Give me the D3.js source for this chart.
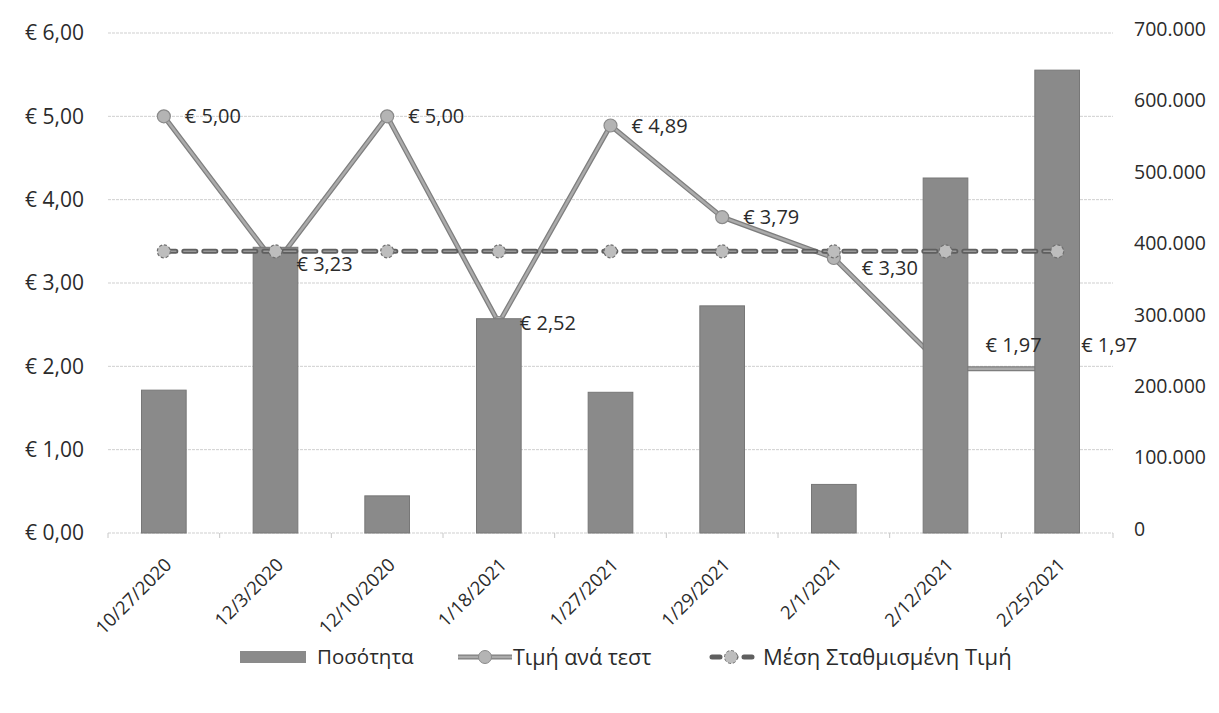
<!DOCTYPE html>
<html><head><meta charset="utf-8">
<script src="https://cdn.jsdelivr.net/npm/d3@7"></script>
<style>
body{margin:0;background:#fff}
svg{display:block}
text{font-family:"Open Sans",sans-serif;fill:#2b2b2b}
</style>
</head><body>
<svg id="c" width="1219" height="713"></svg>
<script>
const categories=["10/27/2020","12/3/2020","12/10/2020","1/18/2021","1/27/2021","1/29/2021","2/1/2021","2/12/2021","2/25/2021"];
const quantity=[200000,400000,52000,300000,197000,318000,68000,497000,648000];
const pricePerTest=[5.00,3.23,5.00,2.52,4.89,3.79,3.30,1.97,1.97];
const weightedAvg=[3.38,3.38,3.38,3.38,3.38,3.38,3.38,3.38,3.38];
const leftTicks=[0,1,2,3,4,5,6];
const rightTicks=[0,100000,200000,300000,400000,500000,600000,700000];
const seriesNames=["Ποσότητα","Τιμή ανά τεστ","Μέση Σταθμισμένη Τιμή"];

// label nudges (styling only)
const labelNudge={6:{dx:28,dy:10},7:{dx:40,dy:-24},8:{dx:24,dy:-24}};

const loc=d3.formatLocale({decimal:",",thousands:".",grouping:[3],currency:["€",""]});
const fmtEur=v=>"€ "+loc.format(",.2f")(v);
const fmtQty=loc.format(",.0f");

const svg=d3.select("#c");
const L=108,R=1113,T=33,B=533;
const x=d3.scaleBand().domain(categories).range([L,R]).paddingInner(0.6).paddingOuter(0.3);
const yL=d3.scaleLinear().domain([0,6]).range([B,T]);
const yR=d3.scaleLinear().domain([0,700000]).range([B,T]);
const cx=d=>x(d)+x.bandwidth()/2;
const step=x.step();

// gridlines
svg.append("g").selectAll("line").data(leftTicks).join("line")
  .attr("x1",L).attr("x2",R).attr("y1",d=>yL(d)).attr("y2",d=>yL(d))
  .attr("stroke","#cfcfcf").attr("stroke-width",1).attr("stroke-dasharray","3,1");

// x-axis tick marks at category boundaries
svg.append("g").selectAll("line").data(d3.range(categories.length+1)).join("line")
  .attr("x1",i=>L+i*step).attr("x2",i=>L+i*step).attr("y1",B).attr("y2",B+5)
  .attr("stroke","#c8c8c8");

// left axis labels
svg.append("g").selectAll("text").data(leftTicks).join("text")
  .attr("x",84).attr("y",d=>yL(d)).attr("dy","0.35em").attr("text-anchor","end")
  .attr("font-size",21).text(fmtEur);

// right axis labels
svg.append("g").selectAll("text").data(rightTicks).join("text")
  .attr("x",1134).attr("y",d=>yR(d)-4).attr("dy","0.35em").attr("text-anchor","start")
  .attr("font-size",19.5).text(fmtQty);

// x labels
svg.append("g").selectAll("text").data(categories).join("text")
  .attr("transform",d=>`translate(${cx(d)+9},${B+33}) rotate(-45)`)
  .attr("text-anchor","end").attr("font-size",18.5).text(d=>d);

// price per test line (under bars)
const priceData=categories.map((c,i)=>({c,v:pricePerTest[i],i}));
const line=d3.line().x(d=>cx(d.c)).y(d=>yL(d.v));
svg.append("path").datum(priceData).attr("d",line).attr("fill","none")
  .attr("stroke","#7e7e7e").attr("stroke-width",5).attr("stroke-linejoin","round");
svg.append("path").datum(priceData).attr("d",line).attr("fill","none")
  .attr("stroke","#ababab").attr("stroke-width",2.5).attr("stroke-linejoin","round");
svg.append("g").selectAll("circle").data(priceData).join("circle")
  .attr("cx",d=>cx(d.c)).attr("cy",d=>yL(d.v)).attr("r",6.5)
  .attr("fill","#b4b4b4").attr("stroke","#8a8a8a").attr("stroke-width",1.2);

// bars
svg.append("g").selectAll("rect").data(categories).join("rect")
  .attr("x",d=>x(d)).attr("width",x.bandwidth())
  .attr("y",(d,i)=>yR(quantity[i])).attr("height",(d,i)=>B-yR(quantity[i]))
  .attr("fill","#8a8a8a").attr("stroke","#777").attr("stroke-width",1);

// weighted average dashed line
const avgData=categories.map((c,i)=>({c,v:weightedAvg[i]}));
svg.append("path").datum(avgData).attr("d",line).attr("fill","none")
  .attr("stroke","#5f5f5f").attr("stroke-width",5).attr("stroke-dasharray","12,8").attr("stroke-linecap","round");
svg.append("path").datum(avgData).attr("d",line).attr("fill","none")
  .attr("stroke","#9a9a9a").attr("stroke-width",1.5).attr("stroke-dasharray","12,8").attr("stroke-linecap","round");
svg.append("g").selectAll("circle").data(avgData).join("circle")
  .attr("cx",d=>cx(d.c)).attr("cy",d=>yL(d.v)).attr("r",6.5)
  .attr("fill","#bdbdbd").attr("stroke","#6f6f6f").attr("stroke-width",1.2).attr("stroke-dasharray","3,2");

// data labels
svg.append("g").selectAll("text").data(priceData).join("text")
  .attr("x",d=>cx(d.c)+(labelNudge[d.i]?labelNudge[d.i].dx:21))
  .attr("y",d=>yL(d.v)+(labelNudge[d.i]?labelNudge[d.i].dy:0))
  .attr("dy","0.35em").attr("font-size",20).text(d=>fmtEur(d.v));

// legend
const lg=svg.append("g");
const ly=657;
lg.append("rect").attr("x",240).attr("y",ly-6).attr("width",66).attr("height",12).attr("fill","#8a8a8a");
lg.append("text").attr("x",317).attr("y",ly).attr("dy","0.35em").attr("font-size",20.5).text(seriesNames[0]);
lg.append("line").attr("x1",458).attr("x2",512).attr("y1",ly).attr("y2",ly).attr("stroke","#7e7e7e").attr("stroke-width",5);
lg.append("line").attr("x1",458).attr("x2",512).attr("y1",ly).attr("y2",ly).attr("stroke","#ababab").attr("stroke-width",2.5);
lg.append("circle").attr("cx",485).attr("cy",ly).attr("r",6.5).attr("fill","#b4b4b4").attr("stroke","#8a8a8a");
lg.append("text").attr("x",513).attr("y",ly).attr("dy","0.35em").attr("font-size",21.5).text(seriesNames[1]);
lg.append("line").attr("x1",712).attr("x2",752).attr("y1",ly).attr("y2",ly).attr("stroke","#5f5f5f").attr("stroke-width",5).attr("stroke-dasharray","8,8").attr("stroke-linecap","round");
lg.append("circle").attr("cx",731).attr("cy",ly).attr("r",6.5).attr("fill","#bdbdbd").attr("stroke","#6f6f6f").attr("stroke-dasharray","3,2");
lg.append("text").attr("x",763).attr("y",ly).attr("dy","0.35em").attr("font-size",22).text(seriesNames[2]);
</script>
</body></html>
